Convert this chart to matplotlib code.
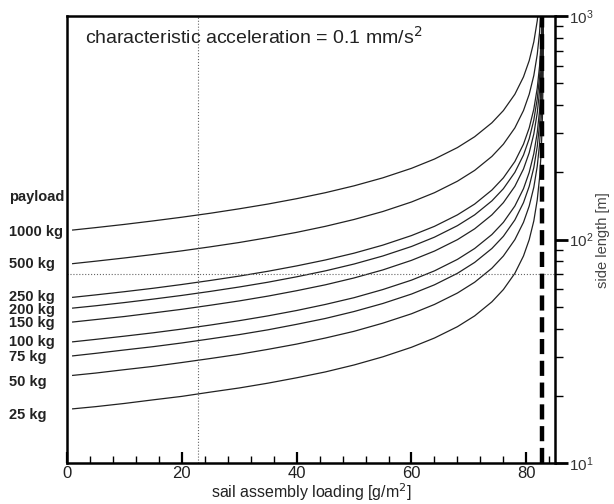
import numpy as np
import matplotlib.pyplot as plt
from matplotlib.ticker import FixedLocator, LogLocator, NullFormatter

plt.rcParams["font.family"] = ["Liberation Sans", "DejaVu Sans"]

# ---------- Daten ----------
sigma = np.array([1, 5, 10, 15, 20, 25, 30, 35, 40, 45, 50, 55, 60, 64, 68, 71,
                  74, 76, 78, 79.5, 80.5, 81.3, 81.9, 82.3, 82.6, 82.8, 82.9,
                  82.95, 82.98])

s_1000 = [110.4, 113.2, 117.0, 121.3, 126.0, 131.3, 137.4, 144.3, 152.5, 162.2,
          174.1, 189.0, 208.5, 229.4, 258.2, 288.7, 333.3, 378.0, 447.2, 534.5,
          632.5, 767.0, 953.5, 1195, 1581, 2236, 3162, 4472, 7071]
s_500 = [78.1, 80.1, 82.8, 85.8, 89.1, 92.9, 97.1, 102.1, 107.8, 114.7, 123.1,
         133.6, 147.4, 162.2, 182.6, 204.1, 235.7, 267.3, 316.2, 378.0, 447.2,
         542.3, 674.2, 845.2, 1118, 1581, 2236, 3162, 5000]
s_250 = [55.2, 56.6, 58.5, 60.6, 63.0, 65.7, 68.7, 72.2, 76.3, 81.1, 87.0, 94.5,
         104.3, 114.7, 129.1, 144.3, 166.7, 189.0, 223.6, 267.3, 316.2, 383.5,
         476.7, 597.6, 790.6, 1118, 1581, 2236, 3536]
s_200 = [49.4, 50.6, 52.3, 54.2, 56.3, 58.7, 61.4, 64.5, 68.2, 72.5, 77.8, 84.5,
         93.2, 102.6, 115.5, 129.1, 149.1, 169.0, 200.0, 239.0, 282.8, 343.0,
         426.4, 534.5, 707.1, 1000, 1414, 2000, 3162]
s_150 = [42.8, 43.9, 45.3, 47.0, 48.8, 50.9, 53.2, 55.9, 59.1, 62.8, 67.4, 73.2,
         80.8, 88.9, 100.0, 111.8, 129.1, 146.4, 173.2, 207.0, 244.9, 297.0,
         369.3, 462.9, 612.4, 866.0, 1225, 1732, 2739]
s_100 = [34.9, 35.8, 37.0, 38.3, 39.8, 41.5, 43.4, 45.6, 48.2, 51.3, 55.0, 59.8,
         65.9, 72.5, 81.6, 91.3, 105.4, 119.5, 141.4, 169.0, 200.0, 242.5, 301.5,
         377.9, 500.0, 707.1, 1000, 1414, 2236]
s_75 = [30.2, 31.0, 32.1, 33.2, 34.5, 36.0, 37.6, 39.5, 41.8, 44.4, 47.7, 51.8,
        57.1, 62.8, 70.7, 79.1, 91.3, 103.5, 122.5, 146.4, 173.2, 210.1, 261.1,
        327.3, 433.0, 612.4, 866, 1225, 1937]
s_50 = [24.7, 25.3, 26.2, 27.1, 28.2, 29.4, 30.7, 32.3, 34.1, 36.3, 38.9, 42.3,
        46.6, 51.3, 57.7, 64.5, 74.5, 84.5, 100.0, 119.5, 141.4, 171.5, 213.2,
        267.3, 353.6, 500.0, 707, 1000, 1581]
s_25 = [17.5, 17.9, 18.5, 19.2, 19.9, 20.8, 21.7, 22.8, 24.1, 25.6, 27.5, 29.9,
        33.0, 36.3, 40.8, 45.6, 52.7, 59.8, 70.7, 84.5, 100.0, 121.3, 150.8,
        189.0, 250.0, 353.6, 500, 707, 1118]

curves = [s_1000, s_500, s_250, s_200, s_150, s_100, s_75, s_50, s_25]

labels = ["payload", "1000 kg", "500 kg", "250 kg", "200 kg", "150 kg",
          "100 kg", "75 kg", "50 kg", "25 kg"]
label_y = [155, 108, 77.7, 55.3, 48.4, 42.3, 34.8, 29.8, 23.0, 16.4]

sigma_max = 82.8      # Grenzwert (gestrichelt)
sigma_ref = 22.8      # Referenzlinie vertikal
s_ref = 70            # Referenzlinie horizontal

# ---------- Plot ----------
fig = plt.figure(figsize=(6.14, 5.04), dpi=100)
ax = fig.add_axes([0.109, 0.081, 0.795, 0.887])

for s in curves:
    ax.plot(sigma, s, color="#222222", lw=0.9)

ax.axvline(sigma_ref, color="#666666", lw=0.8, ls=":")
ax.axhline(s_ref, color="#666666", lw=0.8, ls=":")
ax.axvline(sigma_max, color="black", lw=3.2, ls=(0, (3.4, 1.5)),
           dash_capstyle="butt")

ax.set_yscale("log")
ax.set_xlim(0, 85)
ax.set_ylim(10, 1000)

# x-Achse: Ticks nach innen
ax.xaxis.set_major_locator(FixedLocator([0, 20, 40, 60, 80]))
ax.xaxis.set_minor_locator(FixedLocator([v for v in range(4, 85, 4) if v % 20]))
ax.tick_params(axis="x", which="major", direction="in", length=8, width=1.6,
               labelsize=12, labelcolor="#222222", pad=2)
ax.tick_params(axis="x", which="minor", direction="in", length=5, width=1.0)
ax.tick_params(axis="x", top=False)

# y-Achse rechts
ax.yaxis.tick_right()
ax.yaxis.set_label_position("right")
ax.yaxis.set_minor_locator(LogLocator(base=10, subs=np.arange(2, 10)))
ax.yaxis.set_minor_formatter(NullFormatter())
ax.tick_params(axis="y", which="major", direction="out", length=9, width=2,
               labelsize=11, labelcolor="#333333", pad=1)
ax.tick_params(axis="y", which="minor", direction="out", length=6, width=1)

for sp in ax.spines.values():
    sp.set_linewidth(1.8)

ax.set_xlabel(r"sail assembly loading [g/m$^2$]", fontsize=11.5,
              color="#222222", labelpad=0)
ax.set_ylabel("side length [m]", fontsize=10.5, color="#444444", labelpad=2)

ax.text(0.037, 0.953, r"characteristic acceleration = 0.1 mm/s$^2$",
        transform=ax.transAxes, fontsize=14, va="center", ha="left",
        color="#222222")

trans = ax.get_yaxis_transform()
for lab, y in zip(labels, label_y):
    ax.text(-0.119, y, lab, transform=trans, fontsize=10.5, fontweight="bold",
            va="center", ha="left", color="#222222")

fig.savefig("out.png", dpi=100)
